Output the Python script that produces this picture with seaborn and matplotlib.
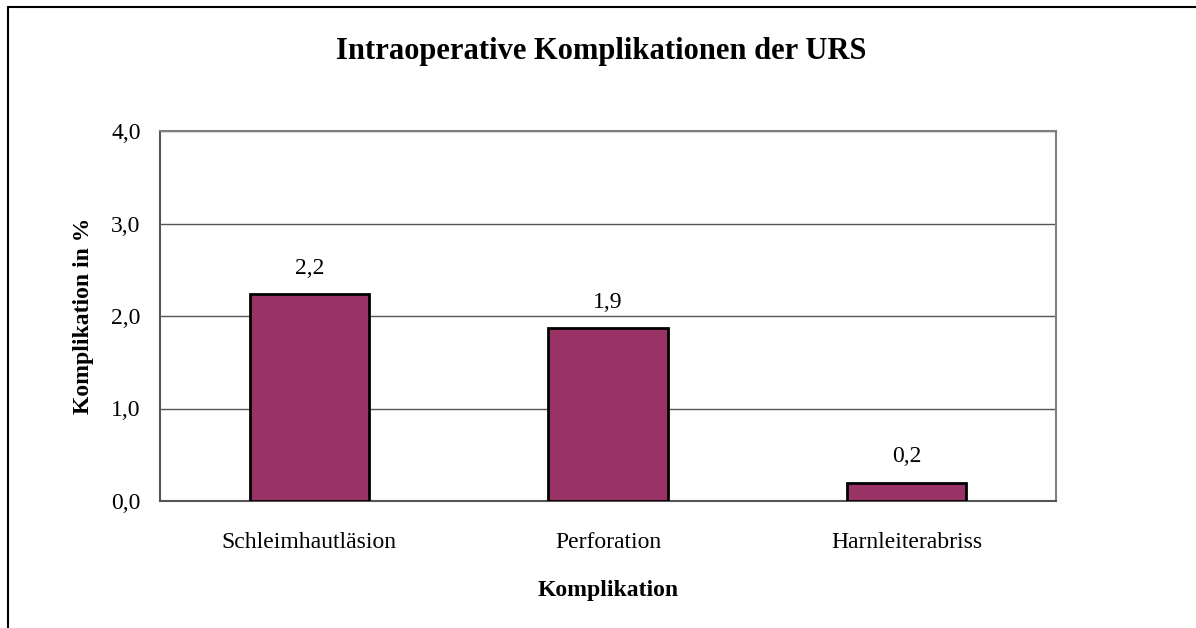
import numpy as np
import pandas as pd
import matplotlib.pyplot as plt
import seaborn as sns
from matplotlib.lines import Line2D

categories = ['Schleimhautläsion', 'Perforation', 'Harnleiterabriss']
values = [2.24, 1.87, 0.20]
yticks = [0.0, 1.0, 2.0, 3.0, 4.0]

df = pd.DataFrame({'Komplikation': categories, 'Prozent': values})

sns.set_style('white')
plt.rcParams['font.family'] = ['Liberation Serif', 'DejaVu Serif']
plt.rcParams['text.color'] = 'black'
plt.rcParams['xtick.color'] = 'black'
plt.rcParams['ytick.color'] = 'black'
plt.rcParams['axes.labelcolor'] = 'black'

fig = plt.figure(figsize=(11.96, 6.28), dpi=100)
ax = fig.add_axes([160 / 1196, 127 / 628, 896 / 1196, 370 / 628])

sns.barplot(data=df, x='Komplikation', y='Prozent', color='#993366',
            saturation=1, width=0.4, edgecolor='black', linewidth=2,
            ax=ax, zorder=3)

ax.set_ylim(0, 4)
ax.set_xlim(-0.5, 2.5)
ax.set_yticks(yticks)
ax.set_yticklabels([f'{t:.1f}'.replace('.', ',') for t in yticks], fontsize=17)
ax.tick_params(axis='x', labelsize=17, pad=22, length=0)
ax.tick_params(axis='y', pad=14, length=0)
ax.yaxis.grid(True, color='#555555', linewidth=1, zorder=0)
ax.set_axisbelow(True)
for s in ax.spines.values():
    s.set_color('#808080')
    s.set_linewidth(1.5)
ax.spines['bottom'].set_color('#555555')
ax.spines['left'].set_color('#555555')

for i, v in enumerate(values):
    ax.annotate(f'{v:.1f}'.replace('.', ','), (i, v), xytext=(0, 11),
                textcoords='offset points', ha='center', va='bottom', fontsize=17)

ax.set_xlabel('Komplikation', fontsize=17, fontweight='bold', labelpad=20)
ax.set_ylabel('Komplikation in %', fontsize=17, fontweight='bold', labelpad=12)
fig.text(601 / 1196, 1 - 51 / 628, 'Intraoperative Komplikationen der URS',
         ha='center', va='center', fontsize=22, fontweight='bold')

fig.add_artist(Line2D([8 / 1196, 8 / 1196], [0, 1 - 7 / 628], color='black', lw=1.5))
fig.add_artist(Line2D([8 / 1196, 1], [1 - 7 / 628, 1 - 7 / 628], color='black', lw=1.5))

fig.savefig('out.png', dpi=100)
